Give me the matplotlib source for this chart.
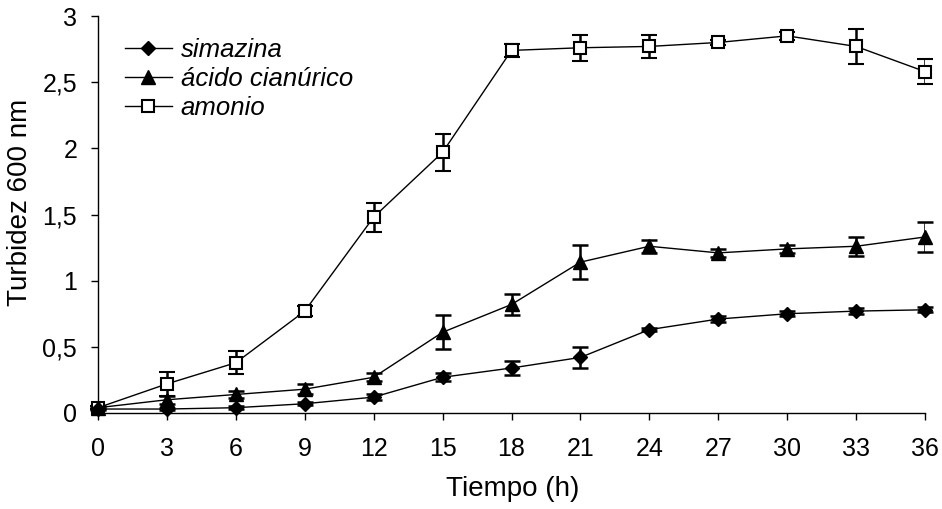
import matplotlib
matplotlib.use("Agg")
import matplotlib.pyplot as plt
from matplotlib.lines import Line2D

plt.rcParams['font.family'] = ['Liberation Sans', 'DejaVu Sans']

tiempo = [0, 3, 6, 9, 12, 15, 18, 21, 24, 27, 30, 33, 36]

simazina = [0.03, 0.03, 0.04, 0.07, 0.12, 0.27, 0.34, 0.42, 0.63, 0.71, 0.75, 0.77, 0.78]
simazina_err = [0.01, 0.01, 0.01, 0.01, 0.02, 0.03, 0.05, 0.08, 0.01, 0.02, 0.02, 0.02, 0.02]

cianurico = [0.04, 0.10, 0.14, 0.18, 0.27, 0.61, 0.82, 1.14, 1.26, 1.21, 1.24, 1.26, 1.33]
cianurico_err = [0.01, 0.03, 0.03, 0.04, 0.03, 0.13, 0.08, 0.13, 0.05, 0.03, 0.03, 0.07, 0.11]

amonio = [0.04, 0.22, 0.38, 0.77, 1.48, 1.97, 2.74, 2.76, 2.77, 2.80, 2.85, 2.77, 2.58]
amonio_err = [0.01, 0.09, 0.085, 0.04, 0.11, 0.14, 0.05, 0.10, 0.09, 0.02, 0.03, 0.13, 0.095]

labels = ['simazina', 'ácido cianúrico', 'amonio']
xticks = list(range(0, 37, 3))
yticks = [0, 0.5, 1, 1.5, 2, 2.5, 3]
yticklabels = ['0', '0,5', '1', '1,5', '2', '2,5', '3']

fig = plt.figure(figsize=(9.42, 5.09), dpi=100)
ax = fig.add_axes([98/942, 1-413/509, (925-98)/942, (413-16)/509])

common = dict(color='black', lw=1.0, ecolor='black', elinewidth=1.8, capsize=5.5, capthick=1.8)
styles = {
    'amonio': dict(marker='s', ms=9, mfc='white', mec='black', mew=1.5),
    'cianurico': dict(marker='^', ms=10, mfc='black', mec='black'),
    'simazina': dict(marker='D', ms=7, mfc='black', mec='black'),
}
ax.errorbar(tiempo, amonio, yerr=amonio_err, zorder=3, **styles['amonio'], **common)
ax.errorbar(tiempo, cianurico, yerr=cianurico_err, zorder=3, **styles['cianurico'], **common)
ax.errorbar(tiempo, simazina, yerr=simazina_err, zorder=3, **styles['simazina'], **common)

ax.set_xlim(0, 36)
ax.set_ylim(0, 3)
ax.set_xticks(xticks)
ax.set_xticklabels([str(t) for t in xticks])
ax.set_yticks(yticks)
ax.set_yticklabels(yticklabels)
for s in ['top', 'right']:
    ax.spines[s].set_visible(False)
ax.spines['left'].set_linewidth(1.0)
ax.spines['bottom'].set_linewidth(1.0)
ax.tick_params(axis='both', direction='out', length=5, width=1.0, labelsize=18)
ax.tick_params(axis='x', pad=12)
ax.tick_params(axis='y', pad=10)
ax.set_xlabel('Tiempo (h)', fontsize=20)
ax.set_ylabel('Turbidez 600 nm', fontsize=20)
ax.xaxis.set_label_coords(0.502, -0.159)
ax.yaxis.set_label_coords(-0.079, 0.53)

handles = [Line2D([], [], color='black', lw=1.0, **styles['simazina']),
           Line2D([], [], color='black', lw=1.0, **styles['cianurico']),
           Line2D([], [], color='black', lw=1.0, **styles['amonio'])]
ax.legend(handles, labels, loc='upper left', bbox_to_anchor=(0.033, 0.945), frameon=False,
          prop={'style': 'italic', 'size': 18.5}, handlelength=1.8,
          labelspacing=0.2, handletextpad=0.35, borderaxespad=0, borderpad=0)
for line in ax.lines:
    line.set_clip_on(False)

fig.savefig('out.png', dpi=100)
